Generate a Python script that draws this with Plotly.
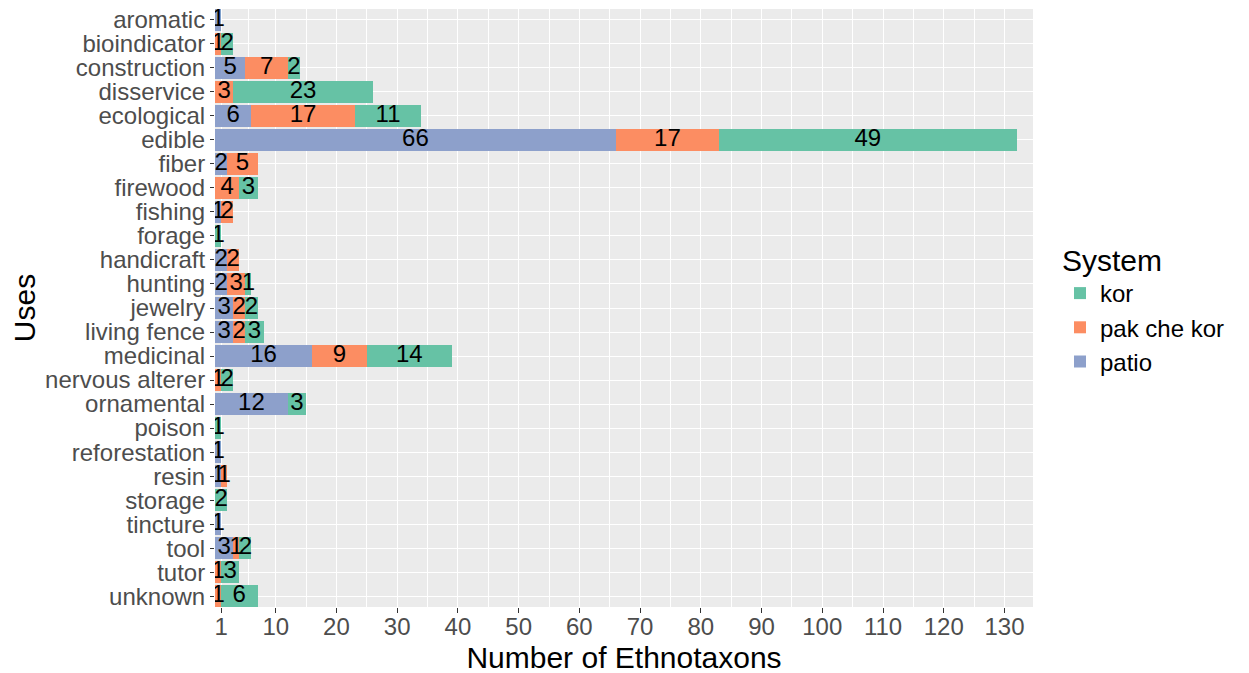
import plotly.graph_objects as go

categories = ["aromatic", "bioindicator", "construction", "disservice", "ecological", "edible",
              "fiber", "firewood", "fishing", "forage", "handicraft", "hunting", "jewelry",
              "living fence", "medicinal", "nervous alterer", "ornamental", "poison",
              "reforestation", "resin", "storage", "tincture", "tool", "tutor", "unknown"]
patio =        [1, 0, 5, 0, 6, 66, 2, 0, 1, 0, 2, 2, 3, 3, 16, 0, 12, 0, 1, 1, 0, 1, 3, 0, 0]
pak_che_kor =  [0, 1, 7, 3, 17, 17, 5, 4, 2, 0, 2, 3, 2, 2, 9, 1, 0, 0, 0, 1, 0, 0, 1, 1, 1]
kor =          [0, 2, 2, 23, 11, 49, 0, 3, 0, 1, 0, 1, 2, 3, 14, 2, 3, 1, 0, 0, 2, 0, 2, 3, 6]
x_ticks = [1, 10, 20, 30, 40, 50, 60, 70, 80, 90, 100, 110, 120, 130]

series = [("patio", patio, "#8DA0CB"), ("pak che kor", pak_che_kor, "#FC8D62"), ("kor", kor, "#66C2A5")]

FONT = "Liberation Sans, Arial"

fig = go.Figure()
base = [0] * len(categories)
text_x, text_y, text_s = [], [], []
for name, vals, color in series:
    fig.add_trace(go.Bar(y=categories, x=vals, name=name, orientation="h",
                         marker=dict(color=color, line=dict(width=0)), width=0.9))
    for i, v in enumerate(vals):
        if v > 0:
            text_x.append(base[i] + v / 2)
            text_y.append(categories[i])
            text_s.append(str(v))
        base[i] += v

fig.add_trace(go.Scatter(x=text_x, y=text_y, text=text_s, mode="text",
                         textfont=dict(size=24, color="black", family=FONT),
                         showlegend=False, hoverinfo="skip"))

minor_vals = [(a + b) / 2 for a, b in zip(x_ticks[:-1], x_ticks[1:])]

fig.update_layout(
    barmode="stack",
    width=1249, height=673,
    paper_bgcolor="white", plot_bgcolor="#EBEBEB",
    margin=dict(l=207, r=224, t=1, b=74, autoexpand=False),
    font=dict(family=FONT, color="#4D4D4D"),
    legend=dict(title=dict(text="System", font=dict(size=30, color="black")),
                traceorder="reversed", font=dict(size=24, color="black"),
                x=1.033, xanchor="left", y=0.5, yanchor="middle",
                bgcolor="rgba(0,0,0,0)", itemwidth=30),
    xaxis=dict(range=[0, 134.7], tickmode="array", tickvals=x_ticks,
               ticktext=[str(t) for t in x_ticks], showgrid=True, gridcolor="white", gridwidth=1.2,
               zeroline=False, ticks="outside", ticklen=5, tickcolor="#333333", automargin=False,
               tickfont=dict(size=24, color="#4D4D4D"), ticklabelstandoff=-7,
               minor=dict(tickmode="array", tickvals=minor_vals, showgrid=True,
                          gridcolor="white", gridwidth=0.6, ticks=""),
               title=dict(text="Number of Ethnotaxons", font=dict(size=30, color="black"), standoff=8)),
    yaxis=dict(categoryorder="array", categoryarray=categories, autorange=False,
               tickmode="array", tickvals=categories, ticktext=categories,
               range=[len(categories) - 0.55, -0.45], automargin=False,
               showgrid=True, gridcolor="white", gridwidth=1.2, zeroline=False,
               ticks="outside", ticklen=4, tickcolor="#333333",
               tickfont=dict(size=24, color="#4D4D4D"),
               title=dict(text="Uses", font=dict(size=30, color="black"), standoff=2)),
)

fig.write_html("out.html")
